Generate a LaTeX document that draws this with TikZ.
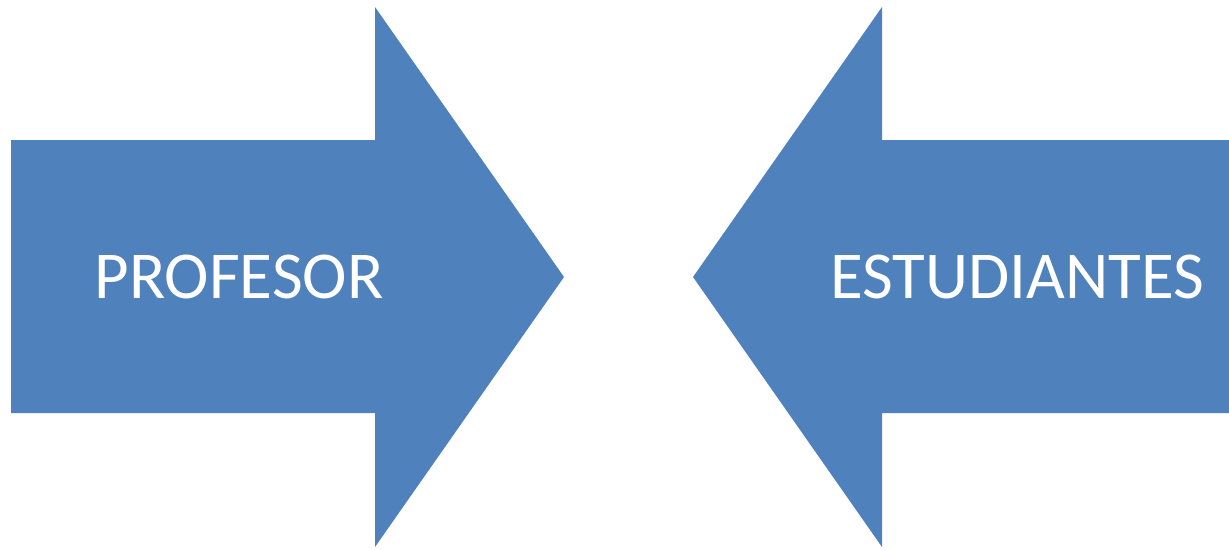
\documentclass[tikz,border=0pt]{standalone}
\usepackage{fontspec}
\setmainfont{Carlito}
\definecolor{arrowblue}{HTML}{4F81BD}
\tikzset{
  bigarrow/.style={fill=arrowblue, draw=none},
  arrowtext/.style={text=white, font=\fontsize{67}{80}\selectfont, inner sep=0pt}
}
\begin{document}
\begin{tikzpicture}[x=1pt,y=-1pt]
\useasboundingbox (0,0) rectangle (1229,549);
% left arrow
\fill[bigarrow] (11,140) -- (375,140) -- (375,7) -- (564,277) -- (375,547) -- (375,413) -- (11,413) -- cycle;
% right arrow
\fill[bigarrow] (1229,140) -- (882,140) -- (882,7) -- (693,277) -- (882,547) -- (882,413) -- (1229,413) -- cycle;
\node[arrowtext] (prof) at (239,277) {PROFESOR};
\node[arrowtext] (est) at (1017,277) {ESTUDIANTES};
\end{tikzpicture}
\end{document}
